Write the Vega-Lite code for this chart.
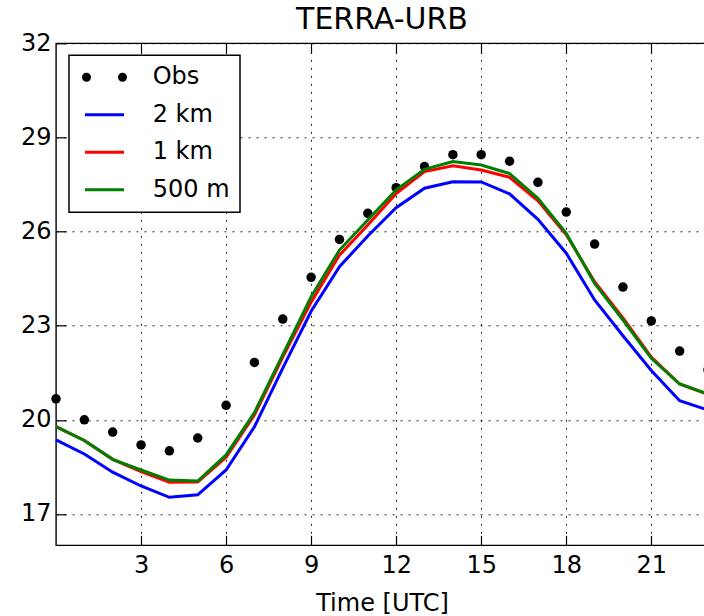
{
  "$schema": "https://vega.github.io/schema/vega-lite/v6.json",
  "autosize": {"type": "none"},
  "width": 652,
  "height": 502,
  "padding": {"left": 56, "top": 43.3, "right": 0, "bottom": 70.7},
  "title": {
    "text": "TERRA-URB",
    "font": "DejaVu Sans",
    "fontSize": 30,
    "fontWeight": "normal",
    "color": "black",
    "anchor": "middle",
    "offset": -3.5
  },
  "datasets": {
    "temps": [
      {"hour": 0, "series": "Obs", "temp": 20.67},
      {"hour": 1, "series": "Obs", "temp": 20.0},
      {"hour": 2, "series": "Obs", "temp": 19.61},
      {"hour": 3, "series": "Obs", "temp": 19.2},
      {"hour": 4, "series": "Obs", "temp": 19.01},
      {"hour": 5, "series": "Obs", "temp": 19.42},
      {"hour": 6, "series": "Obs", "temp": 20.46},
      {"hour": 7, "series": "Obs", "temp": 21.83},
      {"hour": 8, "series": "Obs", "temp": 23.21},
      {"hour": 9, "series": "Obs", "temp": 24.54},
      {"hour": 10, "series": "Obs", "temp": 25.75},
      {"hour": 11, "series": "Obs", "temp": 26.58},
      {"hour": 12, "series": "Obs", "temp": 27.4},
      {"hour": 13, "series": "Obs", "temp": 28.07},
      {"hour": 14, "series": "Obs", "temp": 28.45},
      {"hour": 15, "series": "Obs", "temp": 28.45},
      {"hour": 16, "series": "Obs", "temp": 28.24},
      {"hour": 17, "series": "Obs", "temp": 27.57},
      {"hour": 18, "series": "Obs", "temp": 26.62},
      {"hour": 19, "series": "Obs", "temp": 25.6},
      {"hour": 20, "series": "Obs", "temp": 24.23},
      {"hour": 21, "series": "Obs", "temp": 23.15},
      {"hour": 22, "series": "Obs", "temp": 22.19},
      {"hour": 23, "series": "Obs", "temp": 21.59},

      {"hour": 0, "series": "2 km", "temp": 19.36},
      {"hour": 1, "series": "2 km", "temp": 18.91},
      {"hour": 2, "series": "2 km", "temp": 18.33},
      {"hour": 3, "series": "2 km", "temp": 17.89},
      {"hour": 4, "series": "2 km", "temp": 17.53},
      {"hour": 5, "series": "2 km", "temp": 17.61},
      {"hour": 6, "series": "2 km", "temp": 18.4},
      {"hour": 7, "series": "2 km", "temp": 19.78},
      {"hour": 8, "series": "2 km", "temp": 21.65},
      {"hour": 9, "series": "2 km", "temp": 23.46},
      {"hour": 10, "series": "2 km", "temp": 24.88},
      {"hour": 11, "series": "2 km", "temp": 25.86},
      {"hour": 12, "series": "2 km", "temp": 26.76},
      {"hour": 13, "series": "2 km", "temp": 27.38},
      {"hour": 14, "series": "2 km", "temp": 27.59},
      {"hour": 15, "series": "2 km", "temp": 27.58},
      {"hour": 16, "series": "2 km", "temp": 27.2},
      {"hour": 17, "series": "2 km", "temp": 26.39},
      {"hour": 18, "series": "2 km", "temp": 25.31},
      {"hour": 19, "series": "2 km", "temp": 23.82},
      {"hour": 20, "series": "2 km", "temp": 22.68},
      {"hour": 21, "series": "2 km", "temp": 21.57},
      {"hour": 22, "series": "2 km", "temp": 20.61},
      {"hour": 23, "series": "2 km", "temp": 20.31},

      {"hour": 0, "series": "1 km", "temp": 19.78},
      {"hour": 1, "series": "1 km", "temp": 19.34},
      {"hour": 2, "series": "1 km", "temp": 18.74},
      {"hour": 3, "series": "1 km", "temp": 18.35},
      {"hour": 4, "series": "1 km", "temp": 18.01},
      {"hour": 5, "series": "1 km", "temp": 18.02},
      {"hour": 6, "series": "1 km", "temp": 18.81},
      {"hour": 7, "series": "1 km", "temp": 20.15},
      {"hour": 8, "series": "1 km", "temp": 22.0},
      {"hour": 9, "series": "1 km", "temp": 23.75},
      {"hour": 10, "series": "1 km", "temp": 25.25},
      {"hour": 11, "series": "1 km", "temp": 26.21},
      {"hour": 12, "series": "1 km", "temp": 27.21},
      {"hour": 13, "series": "1 km", "temp": 27.91},
      {"hour": 14, "series": "1 km", "temp": 28.1},
      {"hour": 15, "series": "1 km", "temp": 27.96},
      {"hour": 16, "series": "1 km", "temp": 27.73},
      {"hour": 17, "series": "1 km", "temp": 26.98},
      {"hour": 18, "series": "1 km", "temp": 25.9},
      {"hour": 19, "series": "1 km", "temp": 24.4},
      {"hour": 20, "series": "1 km", "temp": 23.25},
      {"hour": 21, "series": "1 km", "temp": 22.0},
      {"hour": 22, "series": "1 km", "temp": 21.14},
      {"hour": 23, "series": "1 km", "temp": 20.81},

      {"hour": 0, "series": "500 m", "temp": 19.78},
      {"hour": 1, "series": "500 m", "temp": 19.34},
      {"hour": 2, "series": "500 m", "temp": 18.74},
      {"hour": 3, "series": "500 m", "temp": 18.4},
      {"hour": 4, "series": "500 m", "temp": 18.08},
      {"hour": 5, "series": "500 m", "temp": 18.05},
      {"hour": 6, "series": "500 m", "temp": 18.88},
      {"hour": 7, "series": "500 m", "temp": 20.23},
      {"hour": 8, "series": "500 m", "temp": 22.08},
      {"hour": 9, "series": "500 m", "temp": 23.92},
      {"hour": 10, "series": "500 m", "temp": 25.41},
      {"hour": 11, "series": "500 m", "temp": 26.37},
      {"hour": 12, "series": "500 m", "temp": 27.33},
      {"hour": 13, "series": "500 m", "temp": 27.98},
      {"hour": 14, "series": "500 m", "temp": 28.23},
      {"hour": 15, "series": "500 m", "temp": 28.12},
      {"hour": 16, "series": "500 m", "temp": 27.85},
      {"hour": 17, "series": "500 m", "temp": 27.06},
      {"hour": 18, "series": "500 m", "temp": 25.94},
      {"hour": 19, "series": "500 m", "temp": 24.35},
      {"hour": 20, "series": "500 m", "temp": 23.18},
      {"hour": 21, "series": "500 m", "temp": 21.96},
      {"hour": 22, "series": "500 m", "temp": 21.14},
      {"hour": 23, "series": "500 m", "temp": 20.82}
    ]
  },
  "data": {"name": "temps"},
  "layer": [
    {
      "transform": [{"filter": "datum.series === 'Obs'"}],
      "mark": {"type": "point", "filled": true, "size": 90, "opacity": 1, "color": "#000000"},
      "encoding": {
        "x": {
          "field": "hour",
          "type": "quantitative",
          "scale": {"domain": [0, 23], "nice": false, "zero": false},
          "axis": {"orient": "top", "values": [3, 6, 9, 12, 15, 18, 21], "labels": false, "grid": false, "title": null}
        },
        "y": {
          "field": "temp",
          "type": "quantitative",
          "scale": {"domain": [16, 32], "nice": false, "zero": false},
          "axis": {"values": [17, 20, 23, 26, 29, 32], "labelPadding": 15, "grid": true, "title": null}
        }
      }
    },
    {
      "transform": [{"filter": "datum.series !== 'Obs'"}],
      "mark": {"type": "line", "strokeWidth": 3},
      "encoding": {
        "x": {
          "field": "hour",
          "type": "quantitative",
          "scale": {"domain": [0, 23], "nice": false, "zero": false},
          "axis": {"orient": "bottom", "values": [3, 6, 9, 12, 15, 18, 21], "labelPadding": 18.5, "grid": true, "title": "Time [UTC]", "titlePadding": 14}
        },
        "y": {
          "field": "temp",
          "type": "quantitative",
          "scale": {"domain": [16, 32], "nice": false, "zero": false},
          "axis": {"values": [17, 20, 23, 26, 29, 32], "labelPadding": 15, "grid": true, "title": null}
        },
        "color": {
          "field": "series",
          "type": "nominal",
          "scale": {
            "domain": ["Obs", "2 km", "1 km", "500 m"],
            "range": ["#000000", "#0000ff", "#ff0000", "#008000"]
          },
          "legend": {
            "title": null,
            "orient": "none",
            "legendX": 13,
            "legendY": 12,
            "encode": {
              "legend": {"update": {"strokeWidth": {"value": 1.5}}},
              "symbols": {
                "update": {
                  "shape": {"signal": "datum.value === 'Obs' ? 'M-2.1,0C-2.1,-0.1657,-1.9657,-0.3,-1.8,-0.3C-1.6343,-0.3,-1.5,-0.1657,-1.5,0C-1.5,0.1657,-1.6343,0.3,-1.8,0.3C-1.9657,0.3,-2.1,0.1657,-2.1,0ZM1.5,0C1.5,-0.1657,1.6343,-0.3,1.8,-0.3C1.9657,-0.3,2.1,-0.1657,2.1,0C2.1,0.1657,1.9657,0.3,1.8,0.3C1.6343,0.3,1.5,0.1657,1.5,0Z' : 'M-1.95,0L1.95,0'"},
                  "fill": {"signal": "datum.value === 'Obs' ? '#000000' : 'transparent'"},
                  "strokeWidth": {"value": 3},
                  "size": {"value": 400},
                  "opacity": {"value": 1}
                }
              }
            }
          }
        }
      }
    }
  ],
  "resolve": {"axis": {"x": "independent"}},
  "config": {
    "font": "DejaVu Sans",
    "background": "white",
    "view": {"stroke": "black", "strokeWidth": 1.4},
    "axis": {
      "domain": false,
      "labelFont": "DejaVu Sans",
      "labelFontSize": 24,
      "labelColor": "black",
      "tickColor": "black",
      "tickSize": -10,
      "tickWidth": 1.2,
      "gridColor": "black",
      "gridOpacity": 0.85,
      "gridWidth": 1,
      "gridDash": [2, 6],
      "titleFont": "DejaVu Sans",
      "titleFontSize": 24,
      "titleFontWeight": "normal",
      "titleColor": "black"
    },
    "legend": {
      "labelFont": "DejaVu Sans",
      "labelFontSize": 24,
      "labelColor": "black",
      "labelLimit": 0,
      "strokeColor": "black",
      "fillColor": "white",
      "cornerRadius": 0,
      "padding": 10,
      "rowPadding": 13.5,
      "symbolOffset": 13.5,
      "labelOffset": 36.2,
      "symbolSize": 400,
      "symbolStrokeWidth": 3
    }
  }
}
